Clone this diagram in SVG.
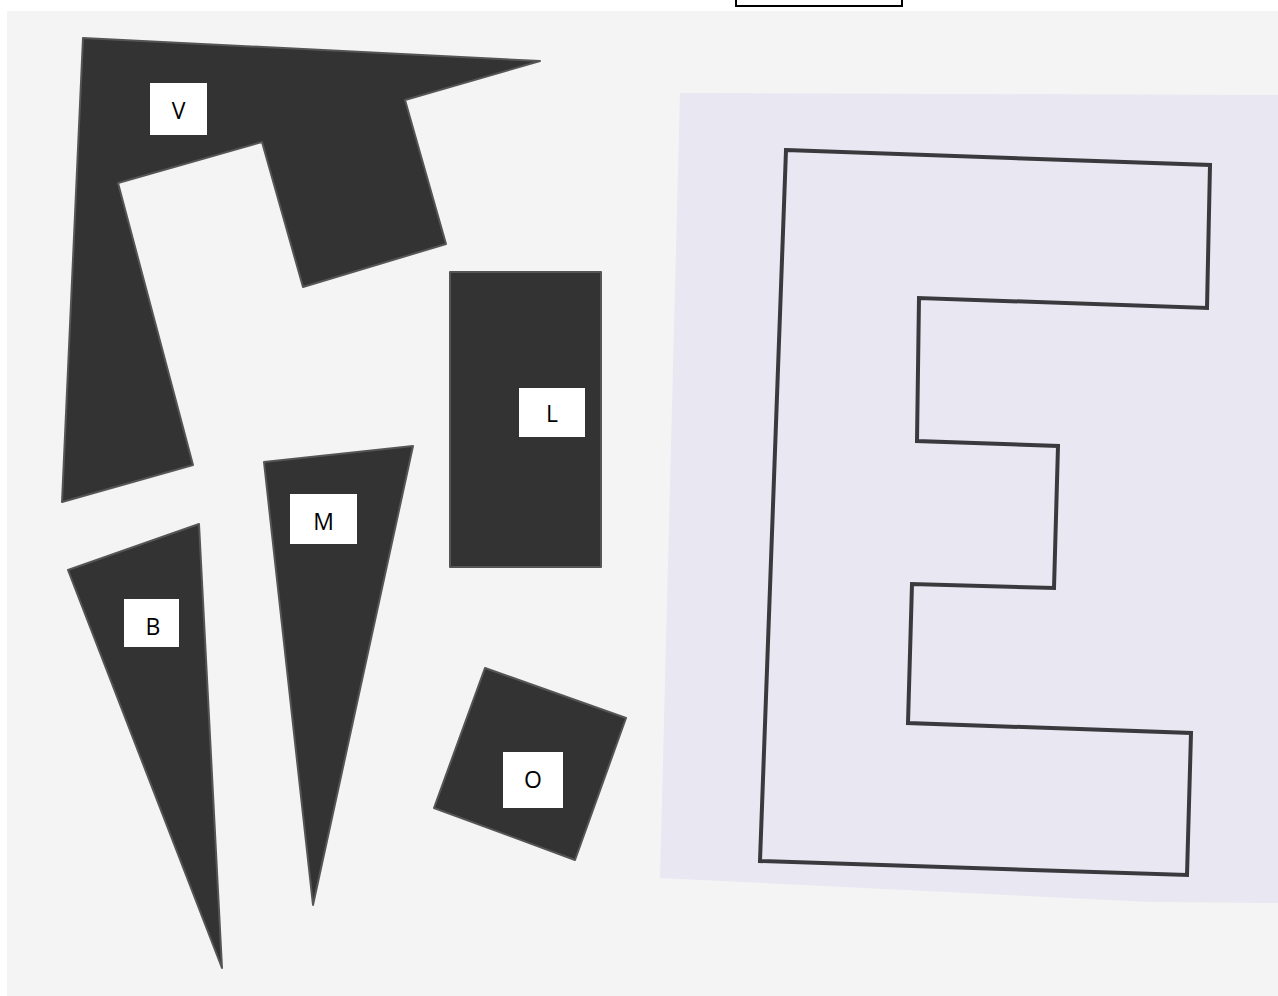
<svg xmlns="http://www.w3.org/2000/svg" width="1278" height="996" viewBox="0 0 1278 996">
<style>
.piece{fill:#333333;stroke:#555555;stroke-width:2;stroke-linejoin:round}
.lbl{fill:#ffffff}
.t{font-family:"Open Sans","Liberation Sans",Arial,sans-serif;font-size:23px;fill:#000000;text-anchor:middle;dominant-baseline:central}
.eout{fill:none;stroke:#3a3a3e;stroke-width:4;stroke-linejoin:miter}
</style>
<rect x="0" y="0" width="1278" height="996" fill="#ffffff"/>
<rect x="7" y="11" width="1271" height="985" fill="#f4f4f4"/>
<polygon points="680,93 1278,95 1278,903 1150,902 660,878" fill="#e9e7f1"/>
<rect id="topbox" x="736" y="-4" width="166" height="10" fill="#ffffff" stroke="#000000" stroke-width="2"/>
<g id="V">
<polygon class="piece" points="83,38 540,61 405,100 446,244 303,287 262,142 118,183 193,465 62,502"/>
<rect class="lbl" x="150" y="83" width="57" height="52"/>
<text class="t" x="178.5" y="110">V</text>
</g>
<g id="L">
<polygon class="piece" points="450,272 601,272 601,567 450,567"/>
<rect class="lbl" x="519" y="388" width="66" height="49"/>
<text class="t" x="552" y="413">L</text>
</g>
<g id="M">
<polygon class="piece" points="264,462 413,446 313,905"/>
<rect class="lbl" x="290" y="494" width="67" height="50"/>
<text class="t" x="323.5" y="521">M</text>
</g>
<g id="B">
<polygon class="piece" points="68,570 199,524 222,968"/>
<rect class="lbl" x="124" y="599" width="55" height="48"/>
<text class="t" x="153" y="626">B</text>
</g>
<g id="O">
<polygon class="piece" points="485,668 626,718 575,860 434,808"/>
<rect class="lbl" x="503" y="752" width="60" height="56"/>
<text class="t" x="533" y="779">O</text>
</g>
<g id="E">
<polygon class="eout" points="786,150 1210,165 1207,308 919,298 917,441 1058,446 1054,588 912,584 908,723 1191,733 1187,875 760,861"/>
</g>
<g id="connectors"></g>
</svg>
